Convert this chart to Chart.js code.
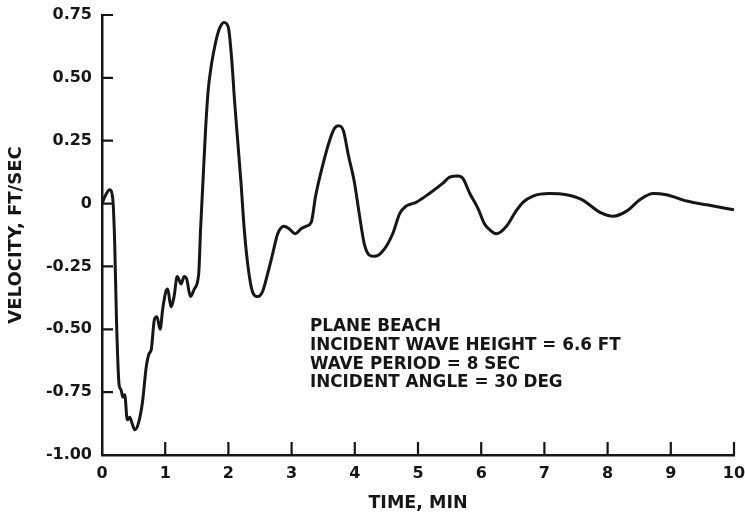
<!DOCTYPE html>
<html>
<head>
<meta charset="utf-8">
<script src="https://cdn.jsdelivr.net/npm/chart.js@4.4.0/dist/chart.umd.min.js"></script>
<style>
  html, body { margin: 0; padding: 0; background: #fff; }
  #wrap { width: 745px; height: 518px; }
</style>
</head>
<body>
<div id="wrap"><canvas id="myChart" width="745" height="518"></canvas></div>
<script>
// time (min) and velocity (ft/sec) of the trace
const timeMin = [0.00, 0.05, 0.12, 0.17, 0.20, 0.23, 0.27, 0.30, 0.33, 0.36, 0.40, 0.44, 0.47, 0.52, 0.58,
  0.64, 0.70, 0.74, 0.78, 0.83, 0.87, 0.92, 0.96, 1.01, 1.04, 1.09, 1.14, 1.19, 1.23, 1.25, 1.30, 1.34,
  1.40, 1.46, 1.53, 1.56, 1.60, 1.64, 1.68, 1.73, 1.78, 1.85, 1.93, 2.00, 2.05, 2.10, 2.15, 2.20, 2.25,
  2.31, 2.38, 2.46, 2.54, 2.62, 2.70, 2.78, 2.88, 2.96, 3.06, 3.15, 3.23, 3.31, 3.38, 3.49, 3.60, 3.68,
  3.74, 3.82, 3.90, 3.99, 4.07, 4.15, 4.23, 4.31, 4.44, 4.60, 4.71, 4.81, 4.97, 5.18, 5.39, 5.50, 5.63,
  5.71, 5.82, 5.95, 6.05, 6.16, 6.24, 6.40, 6.55, 6.66, 6.82, 7.08, 7.35, 7.60, 7.88, 8.09, 8.30, 8.51,
  8.72, 8.93, 9.25, 9.57, 10.0];
const velocity = [0.00, 0.03, 0.055, 0.02, -0.15, -0.47, -0.72, -0.74, -0.77, -0.76, -0.86, -0.85, -0.87, -0.90, -0.87,
  -0.79, -0.65, -0.60, -0.58, -0.46, -0.45, -0.50, -0.42, -0.35, -0.34, -0.41, -0.37, -0.29, -0.31, -0.32, -0.29, -0.30,
  -0.37, -0.34, -0.28, -0.10, 0.10, 0.30, 0.45, 0.55, 0.62, 0.69, 0.72, 0.70, 0.58, 0.40, 0.24, 0.08, -0.10,
  -0.25, -0.35, -0.37, -0.35, -0.28, -0.20, -0.12, -0.09, -0.10, -0.12, -0.10, -0.09, -0.075, 0.03, 0.15, 0.25, 0.30,
  0.31, 0.29, 0.19, 0.09, -0.04, -0.16, -0.205, -0.21, -0.19, -0.12, -0.04, -0.01, 0.005, 0.04, 0.08, 0.105, 0.11,
  0.10, 0.04, -0.02, -0.08, -0.11, -0.12, -0.09, -0.03, 0.005, 0.03, 0.04, 0.035, 0.015, -0.035, -0.05, -0.03, 0.015,
  0.04, 0.035, 0.01, -0.005, -0.025];

const xTicks = [0, 1, 2, 3, 4, 5, 6, 7, 8, 9, 10];
const yTicks = [-1.00, -0.75, -0.50, -0.25, 0, 0.25, 0.50, 0.75];
const notes = ['PLANE BEACH', 'INCIDENT WAVE HEIGHT = 6.6 FT', 'WAVE PERIOD = 8 SEC', 'INCIDENT ANGLE = 30 DEG'];

const ink = '#161616';
const fontFam = '"DejaVu Sans", Verdana, sans-serif';

// tick marks pointing into the plot, plus the note block
const innerTicks = {
  id: 'innerTicks',
  afterDraw(chart) {
    const ctx = chart.ctx;
    const xs = chart.scales.x, ys = chart.scales.y;
    const a = chart.chartArea;
    ctx.save();
    ctx.strokeStyle = ink;
    ctx.lineWidth = 2.2;
    ctx.beginPath();
    yTicks.forEach(v => {
      const py = ys.getPixelForValue(v);
      ctx.moveTo(a.left, py);
      ctx.lineTo(a.left + 11, py);
    });
    xTicks.forEach(v => {
      if (v === 0) return;
      const px = xs.getPixelForValue(v);
      ctx.moveTo(px, a.bottom);
      ctx.lineTo(px, a.bottom - 13);
    });
    ctx.stroke();

    ctx.fillStyle = ink;
    ctx.font = 'bold 16.8px ' + fontFam;
    ctx.textBaseline = 'alphabetic';
    notes.forEach((t, i) => ctx.fillText(t, 310, 331 + i * 18.8));
    ctx.restore();
  }
};

const ctx = document.getElementById('myChart').getContext('2d');
const myChart = new Chart(ctx, {
  type: 'line',
  data: {
    datasets: [{
      data: timeMin.map((t, i) => ({ x: t, y: velocity[i] })),
      borderColor: ink,
      borderWidth: 3,
      pointRadius: 0,
      cubicInterpolationMode: 'monotone',
      fill: false
    }]
  },
  options: {
    responsive: false,
    animation: false,
    layout: { padding: { left: 0, right: 11, top: 15, bottom: 0 } },
    plugins: {
      legend: { display: false },
      tooltip: { enabled: false }
    },
    scales: {
      x: {
        type: 'linear',
        min: 0,
        max: 10,
        afterBuildTicks: s => { s.ticks = xTicks.map(v => ({ value: v })); },
        afterFit: s => { s.height = 63; s.paddingLeft = 0; s.paddingRight = 0; },
        grid: { display: false, drawTicks: false },
        border: { display: true, color: ink, width: 2.5 },
        ticks: {
          padding: 9,
          color: ink,
          font: { family: fontFam, size: 16, weight: 'bold' },
          maxRotation: 0,
          callback: v => String(v)
        },
        title: {
          display: true,
          text: 'TIME, MIN',
          color: ink,
          font: { family: fontFam, size: 17.5, weight: 'bold' },
          padding: { top: 10 }
        }
      },
      y: {
        min: -1,
        max: 0.75,
        afterBuildTicks: s => { s.ticks = yTicks.map(v => ({ value: v })); },
        afterFit: s => { s.width = 102; s.paddingTop = 0; s.paddingBottom = 0; },
        grid: { display: false, drawTicks: false },
        border: { display: true, color: ink, width: 2.5 },
        ticks: {
          padding: 10,
          color: ink,
          font: { family: fontFam, size: 16, weight: 'bold' },
          callback: v => v === 0 ? '0' : v.toFixed(2)
        },
        title: {
          display: true,
          text: 'VELOCITY, FT/SEC',
          color: ink,
          font: { family: fontFam, size: 18, weight: 'bold' },
          padding: { top: 6 }
        }
      }
    }
  },
  plugins: [innerTicks]
});
</script>
</body>
</html>
